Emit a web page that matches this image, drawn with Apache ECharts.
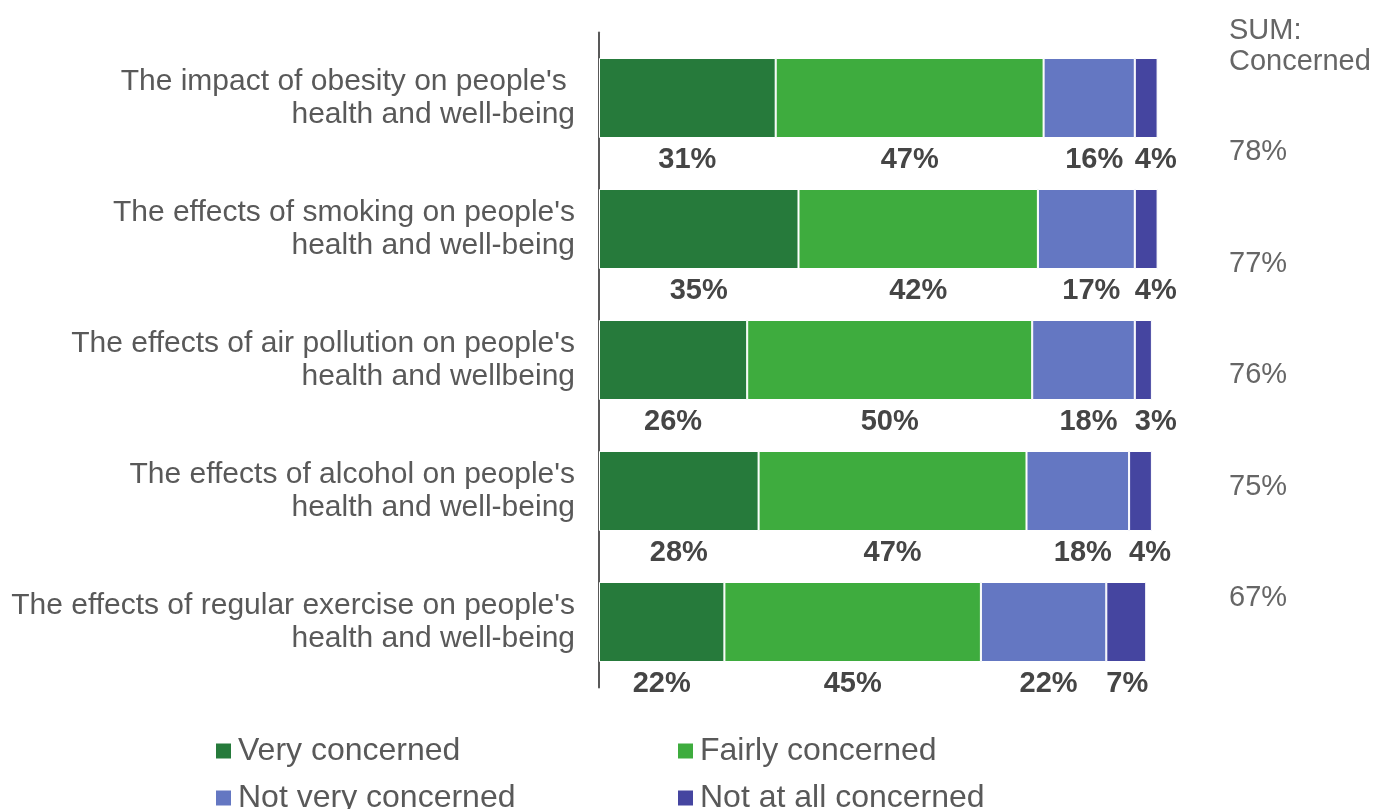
<!DOCTYPE html>
<html>
<head>
<meta charset="utf-8">
<title>Concern about health issues</title>
<script src="https://cdn.jsdelivr.net/npm/echarts@6/dist/echarts.min.js"></script>
<style>
  html, body { margin: 0; padding: 0; background: #ffffff; }
  #chart { width: 1375px; height: 809px; }
</style>
</head>
<body>
<div id="chart"></div>
<script>
// Topics shown on the category axis (top to bottom)
const categories = [
  "The impact of obesity on people's \nhealth and well-being",
  "The effects of smoking on people's\nhealth and well-being",
  "The effects of air pollution on people's\nhealth and wellbeing",
  "The effects of alcohol on people's\nhealth and well-being",
  "The effects of regular exercise on people's\nhealth and well-being"
];

// Share of respondents (%) per answer
const veryConcerned   = [31, 35, 26, 28, 22];
const fairlyConcerned = [47, 42, 50, 47, 45];
const notVeryConcerned = [16, 17, 18, 18, 22];
const notAtAllConcerned = [4, 4, 3, 4, 7];

// Very + fairly concerned, as published
const sumConcerned = [78, 77, 76, 75, 67];

const seriesNames = ['Very concerned', 'Fairly concerned', 'Not very concerned', 'Not at all concerned'];
const seriesColors = ['#267a3b', '#3eac3e', '#6477c2', '#4545a0'];

const FONT = "'Liberation Sans', Arial, sans-serif";

const baseLabel = {
  show: true,
  position: 'bottom',
  distance: 7,
  fontFamily: FONT,
  fontSize: 29,
  fontWeight: 'bold',
  color: '#454545',
  formatter: p => p.value + '%'
};

function barSeries(i, values, labelExtra) {
  return {
    name: seriesNames[i],
    type: 'bar',
    stack: 'total',
    barWidth: 80,
    data: values,
    itemStyle: { color: seriesColors[i], borderColor: '#ffffff', borderWidth: 1 },
    label: Object.assign({}, baseLabel, labelExtra || {}),
    emphasis: { disabled: true }
  };
}

function legendColumn(names, left) {
  return {
    data: names,
    orient: 'vertical',
    left: left,
    top: 735,
    height: 160,
    itemWidth: 17,
    itemHeight: 17,
    itemGap: 15,
    padding: 0,
    icon: 'rect',
    textStyle: { fontFamily: FONT, fontSize: 32, lineHeight: 32, color: '#595959', padding: [0, 0, 0, 1] }
  };
}

const chart = echarts.init(document.getElementById('chart'), null, { renderer: 'canvas' });

chart.setOption({
  animation: false,
  backgroundColor: '#ffffff',
  textStyle: { fontFamily: FONT },
  title: {
    text: 'SUM:\nConcerned',
    left: 1229,
    top: 15,
    textStyle: {
      fontFamily: FONT,
      fontSize: 29,
      fontWeight: 'normal',
      lineHeight: 31,
      color: '#666666'
    },
    padding: 0
  },
  legend: [
    legendColumn([seriesNames[0], seriesNames[2]], 214),
    legendColumn([seriesNames[1], seriesNames[3]], 676)
  ],
  grid: [
    { left: 599, right: 206, top: 32.5, height: 655 },
    { left: 1180, right: 154, top: 96.5, height: 557.5 }
  ],
  xAxis: [
    { type: 'value', gridIndex: 0, min: 0, max: 100, show: false },
    { type: 'value', gridIndex: 1, min: 0, max: 1, show: false }
  ],
  yAxis: [
    {
      type: 'category',
      gridIndex: 0,
      data: categories,
      inverse: true,
      axisLine: { show: true, lineStyle: { color: '#595959', width: 2 } },
      axisTick: { show: false },
      splitLine: { show: false },
      axisLabel: {
        fontFamily: FONT,
        fontSize: 30,
        lineHeight: 33,
        color: '#595959',
        margin: 24,
        align: 'right'
      }
    },
    {
      type: 'category',
      gridIndex: 1,
      position: 'right',
      data: sumConcerned.map(v => v + '%'),
      inverse: true,
      axisLine: { show: false },
      axisTick: { show: false },
      splitLine: { show: false },
      axisLabel: {
        fontFamily: FONT,
        fontSize: 29,
        color: '#666666',
        margin: 8,
        align: 'left'
      }
    }
  ],
  series: [
    barSeries(0, veryConcerned),
    barSeries(1, fairlyConcerned),
    barSeries(2, notVeryConcerned, { offset: [5, 0] }),
    barSeries(3, notAtAllConcerned, {
      position: [0, '100%'],
      align: 'left',
      verticalAlign: 'top',
      offset: [0, 7]
    })
  ]
});
</script>
</body>
</html>
